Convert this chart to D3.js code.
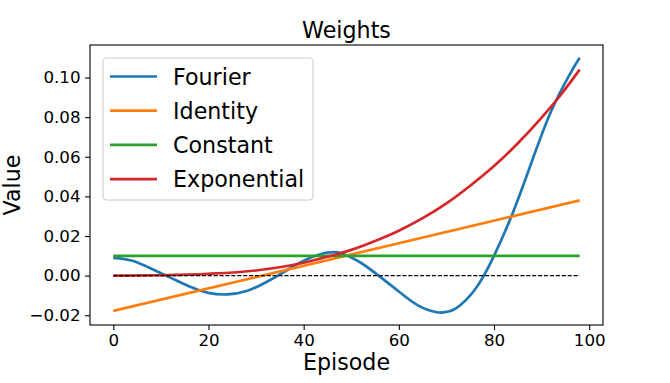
<!DOCTYPE html>
<html>
<head>
<meta charset="utf-8">
<script src="https://cdn.jsdelivr.net/npm/d3@7"></script>
<style>
  body { margin: 0; background: #fff; }
  svg { font-family: "DejaVu Sans", sans-serif; }
</style>
</head>
<body>
<div id="chart"></div>
<script>
// episodes / values
const fourierX = [0, 4, 8, 12, 16, 20, 24, 28, 32, 36, 40, 44, 46, 48, 52, 56, 60, 64, 68, 70, 72, 76, 80, 84, 88, 92, 96, 98];
const fourierY = [0.0090, 0.0075, 0.0035, -0.0010, -0.0055, -0.0087, -0.0095, -0.0078, -0.0035, 0.0020, 0.0075, 0.0112, 0.0118, 0.0112, 0.0065, -0.0005, -0.0080, -0.0150, -0.0185, -0.0183, -0.0165, -0.0070, 0.0100, 0.0320, 0.0580, 0.0830, 0.1020, 0.1100];
const identityX = [0, 98];
const identityY = [-0.0178, 0.0380];
const constantX = [0, 98];
const constantY = [0.01, 0.01];
const expX = [0, 10, 20, 30, 40, 45, 50, 55, 60, 65, 70, 75, 80, 85, 90, 94, 98];
const expY = [0, 0.0002, 0.0009, 0.0026, 0.0065, 0.0095, 0.013, 0.0175, 0.0227, 0.029, 0.0365, 0.0454, 0.0553, 0.0668, 0.0798, 0.0912, 0.104];
const zeroX = [0, 98];
const zeroY = [0, 0];

const xTicks = [0, 20, 40, 60, 80, 100];
const yTicks = [-0.02, 0, 0.02, 0.04, 0.06, 0.08, 0.10];

const series = [
  {name: "Fourier", xs: fourierX, ys: fourierY, color: "#1f77b4", curve: d3.curveNatural},
  {name: "Identity", xs: identityX, ys: identityY, color: "#ff7f0e", curve: d3.curveLinear},
  {name: "Constant", xs: constantX, ys: constantY, color: "#2ca02c", curve: d3.curveLinear},
  {name: "Exponential", xs: expX, ys: expY, color: "#d62728", curve: d3.curveMonotoneX}
];

const width = 670, height = 383;
const margin = {top: 45, right: 67, bottom: 58, left: 90};

const svg = d3.select("#chart").append("svg")
    .attr("width", width)
    .attr("height", height);

// matplotlib style 5% margins
const allX = series.flatMap(s => s.xs);
const allY = series.flatMap(s => s.ys);
const xr = d3.extent(allX), yr = d3.extent(allY);
const xp = (xr[1] - xr[0]) * 0.05, yp = (yr[1] - yr[0]) * 0.05;

const x = d3.scaleLinear()
    .domain([xr[0] - xp, xr[1] + xp])
    .range([margin.left, width - margin.right]);
const y = d3.scaleLinear()
    .domain([yr[0] - yp, yr[1] + yp])
    .range([height - margin.bottom, margin.top]);

const line = d3.line()
    .x(d => x(d[0]))
    .y(d => y(d[1]));

const plot = svg.append("g");
series.forEach(s => {
  plot.append("path")
    .attr("d", line.curve(s.curve)(s.xs.map((v, i) => [v, s.ys[i]])))
    .attr("fill", "none")
    .attr("stroke", s.color)
    .attr("stroke-width", 2.7);
});
plot.append("path")
  .attr("d", line.curve(d3.curveLinear)(zeroX.map((v, i) => [v, zeroY[i]])))
  .attr("fill", "none")
  .attr("stroke", "#000")
  .attr("stroke-width", 1.1)
  .attr("stroke-dasharray", "4.1,1.8");

// axes
const fmtY = d => d3.format(".2f")(d).replace("-", "\u2212");
const xAxis = svg.append("g")
    .attr("transform", `translate(0,${height - margin.bottom})`)
    .call(d3.axisBottom(x).tickValues(xTicks).tickSize(4.9).tickPadding(4).tickFormat(d3.format("d")));
const yAxis = svg.append("g")
    .attr("transform", `translate(${margin.left},0)`)
    .call(d3.axisLeft(y).tickValues(yTicks).tickSize(4.9).tickPadding(4.5).tickFormat(fmtY));
[xAxis, yAxis].forEach(a => {
  a.select(".domain").remove();
  a.selectAll(".tick line").attr("stroke", "#000").attr("stroke-width", 1.1);
  a.selectAll(".tick text").attr("fill", "#000")
    .style("font-family", "DejaVu Sans").style("font-size", "16.7px");
});

svg.append("rect")
  .attr("x", margin.left)
  .attr("y", margin.top)
  .attr("width", width - margin.left - margin.right)
  .attr("height", height - margin.top - margin.bottom)
  .attr("fill", "none")
  .attr("stroke", "#000")
  .attr("stroke-width", 1.1);

// title + labels
svg.append("text")
  .attr("x", (margin.left + width - margin.right) / 2)
  .attr("y", 38)
  .attr("text-anchor", "middle")
  .style("font-size", "22.2px")
  .text("Weights");
svg.append("text")
  .attr("x", (margin.left + width - margin.right) / 2)
  .attr("y", 370)
  .attr("text-anchor", "middle")
  .style("font-size", "22.2px")
  .text("Episode");
svg.append("text")
  .attr("transform", `translate(20,${(margin.top + height - margin.bottom) / 2}) rotate(-90)`)
  .attr("text-anchor", "middle")
  .style("font-size", "22.2px")
  .text("Value");

// legend
const legend = svg.append("g");
legend.append("rect")
  .attr("x", 103).attr("y", 58)
  .attr("width", 210).attr("height", 142)
  .attr("rx", 4)
  .attr("fill", "#fff").attr("fill-opacity", 0.8)
  .attr("stroke", "#cccccc").attr("stroke-width", 1.1);
series.forEach((s, i) => {
  const ly = 76.5 + i * 34.2;
  legend.append("line")
    .attr("x1", 110).attr("x2", 157)
    .attr("y1", ly).attr("y2", ly)
    .attr("stroke", s.color).attr("stroke-width", 2.7);
  legend.append("text")
    .attr("x", 173).attr("y", ly + 8)
    .style("font-size", "22.2px")
    .text(s.name);
});
</script>
</body>
</html>
